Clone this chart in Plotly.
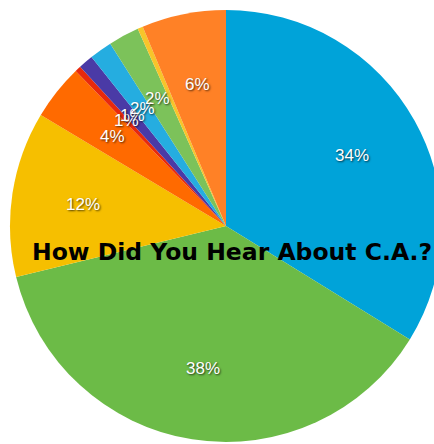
import math
import plotly.graph_objects as go

# Data (percent shares, clockwise from 12 o'clock)
categories = ["A", "B", "C", "D", "E", "F", "G", "H", "I", "J"]
values = [33.8, 37.4, 12.4, 4.15, 0.45, 1.1, 1.7, 2.3, 0.4, 6.3]
label_texts = ["34%", "38%", "12%", "4%", "1%", "1%", "2%", "2%", "", "6%"]
colors = ["#00A3D9", "#6CBB47", "#F6BF00", "#FF6A00", "#E8290C",
          "#4A3AA6", "#25ADE0", "#7CC25A", "#F7C52A", "#FF8126"]
title_text = "How Did You Hear About C.A.?"

W, H = 452, 452
M = 10

fig = go.Figure()
fig.add_trace(go.Pie(
    labels=categories,
    values=values,
    sort=False,
    direction="clockwise",
    rotation=0,
    marker=dict(colors=colors, line=dict(width=0)),
    textinfo="none",
    hoverinfo="skip",
    showlegend=False,
    domain=dict(x=[0, 1], y=[0, 1]),
))

# label annotations at fixed radius fraction along slice mid-angles
total = sum(values)
cum = 0.0
rf = 0.67
annotations = []
for v, t in zip(values, label_texts):
    mid = (cum + v / 2) / total * 2 * math.pi
    cum += v
    if not t:
        continue
    ax = 0.5 + 0.5 * rf * math.sin(mid)
    ay = 0.5 + 0.5 * rf * math.cos(mid)
    annotations.append(dict(
        x=ax, y=ay, xref="paper", yref="paper", text=t, showarrow=False,
        xanchor="center", yanchor="middle",
        font=dict(family="Liberation Sans", size=17, color="white",
                  shadow="1px 1px 2px rgba(0,0,0,0.7)"),
    ))

annotations.append(dict(
    x=(231.5 - M) / (W - 2 * M), y=1 - (252 - M) / (H - 2 * M),
    xref="paper", yref="paper", text=title_text, showarrow=False,
    xanchor="center", yanchor="middle",
    font=dict(family="DejaVu Sans", size=23.5, color="black", weight=700),
))

fig.update_layout(
    width=W, height=H,
    margin=dict(l=M, r=M, t=M, b=M),
    paper_bgcolor="white",
    plot_bgcolor="white",
    annotations=annotations,
)

fig.write_html("out.html",
               config={"displayModeBar": False},
               post_script="document.body.style.margin='0';document.body.style.overflow='hidden';")
